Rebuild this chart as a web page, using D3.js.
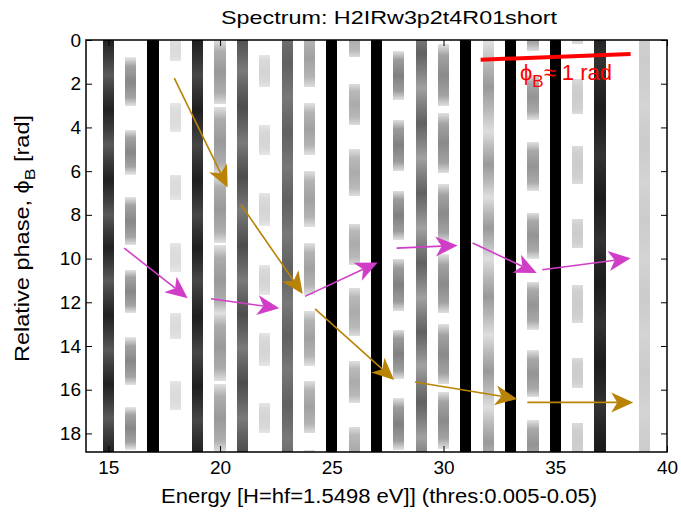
<!DOCTYPE html>
<html>
<head>
<meta charset="utf-8">
<script src="https://cdn.jsdelivr.net/npm/d3@7"></script>
<style>
  html, body { margin: 0; padding: 0; background: #fff; }
  svg { display: block; font-family: "Liberation Sans", Arial, Helvetica, sans-serif; }
</style>
</head>
<body>
<svg id="chart" width="681" height="517"></svg>
<script>
// ---- spectrum data: harmonic orders and their phase-resolved signal ----
// signal level: 0 = below threshold (white) ... 1 = saturated (black)
const stripeOrders = [15, 16, 17, 18, 19, 20, 21, 22, 23, 24, 25, 26, 27, 28, 29, 30, 31, 32, 33, 34, 35, 36, 37, 39];

// level at the lobe edges and at the lobe centre, per harmonic
const stripeEdge = [0.65, 0.10, 1, 0.10, 0.72, 0.12, 0.52, 0.10, 0.53, 0.12, 1, 0.13, 1, 0.12, 0.37, 0.12, 1, 0.13, 1, 0.12, 1, 0.14, 0.80, 0.17];
const stripePeak = [0.87, 0.47, 1, 0.14, 0.88, 0.40, 0.70, 0.17, 0.62, 0.37, 1, 0.33, 1, 0.50, 0.62, 0.46, 1, 0.40, 1, 0.42, 1, 0.20, 0.89, 0.20];

// phase intervals [start, end] (rad) of the signal lobes of each harmonic
const stripeLobes = [
  [[-1.6, 1.6], [1.6, 4.8], [4.8, 8.0], [8.0, 11.0], [11.0, 14.2], [14.2, 17.3], [17.3, 20.4]],          // 15
  [[0.79, 3.04], [4.1, 6.16], [7.17, 9.4], [10.5, 12.5], [13.6, 15.8], [16.8, 18.75]],                   // 16
  [[-1, 20]],                                                                                              // 17
  [[-0.2, 0.98], [2.9, 4.2], [6.16, 7.3], [9.3, 10.6], [12.5, 13.7], [15.6, 16.95]],                     // 18
  [[-1.6, 1.6], [1.6, 4.8], [4.8, 8.0], [8.0, 11.0], [11.0, 14.3], [14.3, 17.4], [17.4, 20.5]],          // 19
  [[0, 2.95], [3.07, 6.2], [6.2, 9.3], [9.4, 12.5], [12.5, 15.6], [15.75, 18.85]],                       // 20
  [[-1.8, 1.4], [1.4, 4.7], [4.7, 7.8], [7.8, 11.0], [11.0, 14.1], [14.1, 17.3], [17.3, 20.5]],          // 21
  [[0.67, 2.17], [3.9, 5.25], [7.0, 8.5], [10.3, 11.65], [13.4, 14.9], [16.6, 18.0]],                    // 22
  [[-0.6, 2.6], [2.6, 5.8], [5.8, 8.9], [8.9, 12.0], [12.0, 15.1], [15.1, 18.2], [18.2, 21.4]],          // 23
  [[-0.5, 2.17], [2.9, 5.25], [6.0, 8.55], [9.3, 11.65], [12.4, 14.9], [15.6, 18.0], [18.75, 21.0]],     // 24
  [[-1, 20]],                                                                                              // 25
  [[-1.0, 0.8], [2.0, 3.9], [5.0, 7.15], [8.4, 10.3], [11.35, 13.55], [14.7, 16.6], [17.7, 19.8]],       // 26
  [[-1, 20]],                                                                                              // 27
  [[0.52, 2.73], [3.65, 6.0], [6.9, 9.15], [10.0, 12.4], [13.25, 15.5], [16.4, 18.75]],                  // 28
  [[-1.0, 2.2], [2.2, 5.4], [5.4, 8.6], [8.6, 11.8], [11.8, 14.9], [14.9, 18.2], [18.2, 21.4]],          // 29
  [[0.2, 3.04], [3.35, 6.1], [6.6, 9.3], [9.8, 12.5], [13.0, 15.75], [16.1, 18.7]],                      // 30
  [[-1, 20]],                                                                                              // 31
  [[-3.0, 0.1], [0.1, 4.2], [4.2, 7.2], [7.2, 10.0], [10.0, 13.5], [13.5, 16.8], [16.8, 20.0]],          // 32
  [[-1, 20]],                                                                                              // 33
  [[-1.6, 0.52], [1.6, 3.65], [4.67, 6.9], [7.9, 10.0], [11.05, 13.25], [14.2, 16.35], [17.4, 19.6]],    // 34
  [[-1, 20]],                                                                                              // 35
  [[-1.5, 0.2], [1.8, 3.4], [4.84, 6.6], [8.2, 9.5], [11.2, 12.95], [14.55, 15.9], [17.5, 19.2]],        // 36
  [[-2.5, 1.0], [1.0, 5.3], [5.3, 9.2], [9.2, 13.0], [13.0, 16.7], [16.7, 20.5]],                        // 37
  [[-1.0, 3.0], [3.0, 6.5], [6.5, 10.0], [10.0, 13.5], [13.5, 17.0], [17.0, 20.5]]                       // 39
];

// axis ticks
const xTicks = [15, 20, 25, 30, 35, 40];
const yTicks = [0, 2, 4, 6, 8, 10, 12, 14, 16, 18];

// annotation arrows: [order0, phase0, order1, phase1]
const goldArrows = [
  [17.95, 1.74, 20.34, 6.75],
  [20.94, 7.54, 23.70, 11.62],
  [24.25, 12.30, 27.79, 15.55],
  [28.72, 15.65, 33.30, 16.42],
  [33.75, 16.58, 38.49, 16.58]
];
const magentaArrows = [
  [15.71, 9.52, 18.55, 11.81],
  [19.59, 11.84, 22.65, 12.27],
  [23.80, 11.73, 27.05, 10.18],
  [27.90, 9.52, 30.63, 9.40],
  [31.30, 9.29, 34.17, 10.66],
  [34.42, 10.51, 38.37, 9.98]
];
// phase-offset marker line and its label position
const markerLine = [[31.66, 0.90], [38.37, 0.64]];
const markerLabelAt = [33.42, 1.82];

const titleText = "Spectrum: H2IRw3p2t4R01short";
const xLabelText = "Energy [H=hf=1.5498 eV]] (thres:0.005-0.05)";

// ---- layout ----
const plot = { left: 86, right: 667, top: 40, bottom: 452 };
const phaseMax = 6 * Math.PI;
const binWidth = 0.5;

const x = d3.scaleLinear().domain([14, 40]).range([plot.left, plot.right]);
const y = d3.scaleLinear().domain([0, phaseMax]).range([plot.top, plot.bottom]);
const shade = d3.scaleLinear().domain([0, 1]).range(["#ffffff", "#000000"]);

const svg = d3.select("#chart");
const defs = svg.append("defs");

defs.append("clipPath").attr("id", "plotClip")
  .append("rect")
  .attr("x", plot.left).attr("y", plot.top)
  .attr("width", plot.right - plot.left).attr("height", plot.bottom - plot.top);

// one vertical gradient per harmonic: light lobe edges, darker lobe centre.
// Harmonics whose lobes join up (continuous bands) vary smoothly; separated
// dashes keep a flatter, darker core.
stripeOrders.forEach((h, i) => {
  const e = stripeEdge[i], p = stripePeak[i];
  const lobes = stripeLobes[i];
  const joined = lobes.length > 1 && lobes.every((l, k) => k === 0 || l[0] === lobes[k - 1][1]);
  const stops = joined
    ? [[0, e], [0.25, e + 0.55 * (p - e)], [0.5, p], [0.75, e + 0.55 * (p - e)], [1, e]]
    : [[0, e], [0.18, e + 0.72 * (p - e)], [0.5, p], [0.82, e + 0.72 * (p - e)], [1, e]];
  const g = defs.append("linearGradient")
    .attr("id", "lobe" + h)
    .attr("x1", 0).attr("y1", 0).attr("x2", 0).attr("y2", 1);
  stops.forEach(([o, v]) => {
    g.append("stop").attr("offset", o).attr("stop-color", shade(v));
  });
});

// ---- spectrum image ----
const img = svg.append("g").attr("clip-path", "url(#plotClip)");
stripeOrders.forEach((h, i) => {
  img.append("g").selectAll("rect")
    .data(stripeLobes[i])
    .join("rect")
    .attr("x", x(h - binWidth / 2))
    .attr("width", x(h + binWidth / 2) - x(h - binWidth / 2))
    .attr("y", d => y(d[0]))
    .attr("height", d => y(d[1]) - y(d[0]))
    .attr("fill", `url(#lobe${h})`)
    .attr("shape-rendering", "crispEdges");
});

// ---- axes (box with inward ticks on all four sides) ----
const tickLen = 6;
function styleAxis(g) {
  g.select(".domain").remove();
  g.selectAll(".tick line").attr("stroke", "#000").attr("stroke-width", 1);
  g.selectAll(".tick text")
    .attr("fill", "#000")
    .style("font-size", "19px")
    .style("font-family", "'Liberation Sans', Arial, Helvetica, sans-serif");
}

svg.append("g")
  .attr("transform", `translate(0,${plot.bottom})`)
  .call(d3.axisBottom(x).tickValues(xTicks).tickSize(-tickLen).tickPadding(9))
  .call(styleAxis);
svg.append("g")
  .attr("transform", `translate(0,${plot.top})`)
  .call(d3.axisTop(x).tickValues(xTicks).tickSize(-tickLen).tickFormat(""))
  .call(styleAxis);
svg.append("g")
  .attr("transform", `translate(${plot.left},0)`)
  .call(d3.axisLeft(y).tickValues(yTicks).tickSize(-tickLen).tickPadding(5))
  .call(styleAxis);
svg.append("g")
  .attr("transform", `translate(${plot.right},0)`)
  .call(d3.axisRight(y).tickValues(yTicks).tickSize(-tickLen).tickFormat(""))
  .call(styleAxis);

svg.append("rect")
  .attr("x", plot.left).attr("y", plot.top)
  .attr("width", plot.right - plot.left).attr("height", plot.bottom - plot.top)
  .attr("fill", "none").attr("stroke", "#000").attr("stroke-width", 1.5);

// ---- arrows ----
function drawArrows(data, color) {
  const g = svg.append("g").attr("clip-path", "url(#plotClip)");
  const headLen = 22, headHalf = 10, notch = 16;
  data.forEach(d => {
    const x0 = x(d[0]), y0 = y(d[1]), x1 = x(d[2]), y1 = y(d[3]);
    const ang = Math.atan2(y1 - y0, x1 - x0);
    const ux = Math.cos(ang), uy = Math.sin(ang);
    g.append("line")
      .attr("x1", x0).attr("y1", y0)
      .attr("x2", x1 - ux * notch).attr("y2", y1 - uy * notch)
      .attr("stroke", color).attr("stroke-width", 1.6);
    g.append("path")
      .attr("d", `M0,0L${-headLen},${-headHalf}L${-notch},0L${-headLen},${headHalf}Z`)
      .attr("transform", `translate(${x1},${y1}) rotate(${ang * 180 / Math.PI})`)
      .attr("fill", color);
  });
}
drawArrows(goldArrows, "#b98305");
drawArrows(magentaArrows, "#d03ec8");

// ---- phase-offset marker ----
svg.append("line")
  .attr("x1", x(markerLine[0][0])).attr("y1", y(markerLine[0][1]))
  .attr("x2", x(markerLine[1][0])).attr("y2", y(markerLine[1][1]))
  .attr("stroke", "#ff0000").attr("stroke-width", 4);

const mk = svg.append("text")
  .attr("x", x(markerLabelAt[0])).attr("y", y(markerLabelAt[1]))
  .attr("fill", "#ff0000")
  .style("font-size", "22px");
mk.append("tspan").text("\u03d5");
mk.append("tspan").attr("dy", 7).style("font-size", "17px").text("B");
mk.append("tspan").attr("dy", -7).text("\u2248 1 rad");

// ---- titles ----
svg.append("text")
  .attr("x", 389).attr("y", 24)
  .attr("text-anchor", "middle")
  .attr("textLength", 336).attr("lengthAdjust", "spacingAndGlyphs")
  .style("font-size", "19px")
  .text(titleText);

svg.append("text")
  .attr("x", 379).attr("y", 503)
  .attr("text-anchor", "middle")
  .attr("textLength", 436).attr("lengthAdjust", "spacingAndGlyphs")
  .style("font-size", "20px")
  .text(xLabelText);

const yl = svg.append("text")
  .attr("transform", "translate(28.5,238.5) rotate(-90)")
  .attr("text-anchor", "middle")
  .attr("textLength", 247).attr("lengthAdjust", "spacingAndGlyphs")
  .style("font-size", "20px");
yl.append("tspan").text("Relative phase, \u03d5");
yl.append("tspan").attr("dy", 6).style("font-size", "15px").text("B");
yl.append("tspan").attr("dy", -6).text(" [rad]");
</script>
</body>
</html>
